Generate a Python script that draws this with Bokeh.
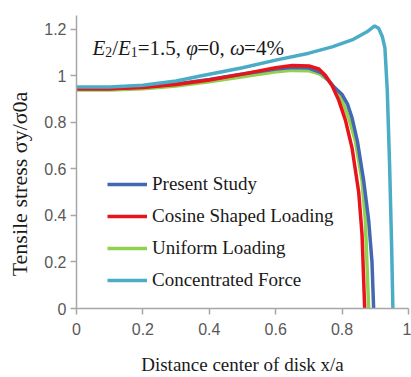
from bokeh.plotting import figure
from bokeh.models import Range1d, FixedTicker, Legend, LegendItem, Label
from bokeh.embed import file_html
from bokeh.resources import INLINE

# ---------------- data ----------------
x_present = [0, 0.1, 0.2, 0.3, 0.4, 0.5, 0.6, 0.65, 0.7, 0.74, 0.774, 0.8, 0.816, 0.83, 0.846, 0.865, 0.88, 0.89, 0.895]
y_present = [0.945, 0.945, 0.952, 0.966, 0.985, 1.008, 1.03, 1.036, 1.034, 1.012, 0.955, 0.92, 0.88, 0.82, 0.72, 0.55, 0.38, 0.2, 0.0]

x_cosine = [0, 0.1, 0.2, 0.3, 0.4, 0.5, 0.6, 0.65, 0.7, 0.73, 0.75, 0.77, 0.79, 0.81, 0.83, 0.85, 0.86, 0.868]
y_cosine = [0.945, 0.945, 0.95, 0.963, 0.983, 1.008, 1.035, 1.045, 1.043, 1.03, 1.002, 0.958, 0.895, 0.81, 0.69, 0.5, 0.32, 0.0]

x_uniform = [0, 0.1, 0.2, 0.3, 0.4, 0.5, 0.6, 0.65, 0.7, 0.73, 0.76, 0.78, 0.8, 0.82, 0.84, 0.86, 0.87, 0.88]
y_uniform = [0.94, 0.94, 0.945, 0.957, 0.975, 0.997, 1.018, 1.024, 1.022, 1.01, 0.98, 0.945, 0.895, 0.82, 0.72, 0.55, 0.38, 0.0]

x_conc = [0, 0.1, 0.2, 0.3, 0.373, 0.5, 0.6, 0.7, 0.77, 0.83, 0.875, 0.898, 0.91, 0.921, 0.929, 0.936, 0.943, 0.949, 0.953]
y_conc = [0.952, 0.952, 0.96, 0.978, 1.0, 1.035, 1.068, 1.098, 1.125, 1.155, 1.19, 1.215, 1.205, 1.17, 1.12, 0.94, 0.62, 0.28, 0.0]

series_names = ["Present Study", "Cosine Shaped Loading", "Uniform Loading", "Concentrated Force"]

x_ticks = [0, 0.2, 0.4, 0.6, 0.8, 1.0]
x_tick_labels = ["0", "0.2", "0.4", "0.6", "0.8", "1"]
y_ticks = [0, 0.2, 0.4, 0.6, 0.8, 1.0, 1.2]
y_tick_labels = ["0", "0.2", "0.4", "0.6", "0.8", "1", "1.2"]

x_title = "Distance center of disk x/a"
y_title = "Tensile stress σy/σ0a"

# ---------------- figure ----------------
FRAME_W, FRAME_H = 332, 293
X0, X1 = 0.0, 1.0
Y0, Y1 = 0.0, 1.26

p = figure(width=411, height=377, output_backend="svg", toolbar_location=None,
           x_range=Range1d(X0, X1), y_range=Range1d(Y0, Y1),
           min_border_left=76, min_border_right=3, min_border_top=15, min_border_bottom=69)
p.outline_line_color = None
p.xgrid.visible = False
p.ygrid.visible = False
p.background_fill_color = "white"

AX_COL = "#a6a6a6"
TICK_COL = "#595959"
TEXT_COL = "#1a1a1a"
SERIF = "Liberation Serif"

for ax in (p.xaxis[0], p.yaxis[0]):
    ax.axis_line_color = AX_COL
    ax.axis_line_width = 1.5
    ax.major_tick_line_color = AX_COL
    ax.major_tick_line_width = 1.5
    ax.major_tick_out = 6
    ax.major_tick_in = 0
    ax.minor_tick_line_color = None
    ax.major_label_text_font = "Liberation Sans"
    ax.major_label_text_font_size = "16px"
    ax.major_label_text_color = TICK_COL
    ax.axis_label_text_font = SERIF
    ax.axis_label_text_font_style = "normal"
    ax.axis_label_text_color = TEXT_COL

p.xaxis.ticker = FixedTicker(ticks=x_ticks)
p.yaxis.ticker = FixedTicker(ticks=y_ticks)
p.xaxis.major_label_overrides = {t: l for t, l in zip(x_ticks, x_tick_labels)}
p.yaxis.major_label_overrides = {t: l for t, l in zip(y_ticks, y_tick_labels)}
p.xaxis.major_label_standoff = 8
p.yaxis.major_label_standoff = 4

p.xaxis.axis_label = x_title
p.xaxis.axis_label_text_font_size = "19px"
p.xaxis.axis_label_standoff = 16
# trailing no-break spaces shift the centred title towards the bottom, as in the picture
p.yaxis.axis_label = y_title + "\u00a0" * 8
p.yaxis.axis_label_text_font_size = "22px"
p.yaxis.axis_label_standoff = 9

colors = ["#4467b2", "#e8141c", "#92d050", "#4bacc6"]
lw = 3.5
r_uniform = p.line(x_uniform, y_uniform, line_color=colors[2], line_width=lw)
r_present = p.line(x_present, y_present, line_color=colors[0], line_width=lw)
r_cosine = p.line(x_cosine, y_cosine, line_color=colors[1], line_width=lw)
r_conc = p.line(x_conc, y_conc, line_color=colors[3], line_width=lw)

legend = Legend(items=[
    LegendItem(label=series_names[0], renderers=[r_present]),
    LegendItem(label=series_names[1], renderers=[r_cosine]),
    LegendItem(label=series_names[2], renderers=[r_uniform]),
    LegendItem(label=series_names[3], renderers=[r_conc]),
], location=(31, 17))
legend.label_text_font = SERIF
legend.label_text_font_size = "19px"
legend.label_text_color = TEXT_COL
legend.glyph_width = 40
legend.glyph_height = 20
legend.label_height = 20
legend.spacing = 10
legend.padding = 0
legend.margin = 0
legend.label_standoff = 5
legend.border_line_color = None
legend.background_fill_alpha = 0
p.add_layout(legend, "center")


def px_to_x(px):   # px: pixels from frame left
    return X0 + px * (X1 - X0) / FRAME_W


def py_to_y(py):   # py: pixels from frame bottom
    return Y0 + py * (Y1 - Y0) / FRAME_H


def add_run(pieces, start_px, base_py, size):
    """Horizontal run of text pieces: (text, style, rel_size, em_width, sub)"""
    cx = start_px
    for text, style, rel, emw, sub in pieces:
        fs = size * rel
        by = base_py - (size * 0.22 if sub else 0)
        p.add_layout(Label(x=px_to_x(cx), y=py_to_y(by), text=text,
                           text_font=SERIF, text_font_style=style,
                           text_font_size=f"{fs:.1f}px", text_color=TEXT_COL,
                           text_baseline="alphabetic", text_align="left"))
        cx += emw * fs


# annotation E2/E1=1.5, phi=0, omega=4%
ann = [("E", "italic", 1, 0.611, False), ("2", "normal", 0.65, 0.5, True),
       ("/", "normal", 1, 0.278, False), ("E", "italic", 1, 0.611, False),
       ("1", "normal", 0.65, 0.5, True), ("=1.5, ", "normal", 1, 2.314, False),
       ("φ", "italic", 1, 0.52, False), ("=0, ", "normal", 1, 1.564, False),
       ("ω", "italic", 1, 0.67, False), ("=4%", "normal", 1, 1.897, False)]
add_run(ann, 16, 308 - 47, 21)

open("out.html", "w").write(file_html(p, INLINE))
